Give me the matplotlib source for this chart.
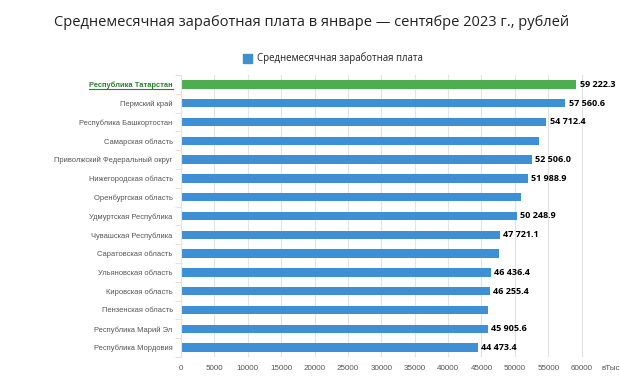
import numpy as np
import matplotlib.pyplot as plt

# data
regions = [
    "Республика Татарстан", "Пермский край", "Республика Башкортостан",
    "Самарская область", "Приволжский Федеральный округ", "Нижегородская область",
    "Оренбургская область", "Удмуртская Республика", "Чувашская Республика",
    "Саратовская область", "Ульяновская область", "Кировская область",
    "Пензенская область", "Республика Марий Эл", "Республика Мордовия",
]
salary = [59222.3, 57560.6, 54712.4, 53600.0, 52506.0, 51988.9, 50900.0, 50248.9,
          47721.1, 47600.0, 46436.4, 46255.4, 46050.0, 45905.6, 44473.4]
shown = [True, True, True, False, True, True, False, True,
         True, False, True, True, False, True, True]

plt.rcParams['font.family'] = ['Liberation Sans', 'DejaVu Sans']
title_font = ['Open Sans', 'DejaVu Sans']

fig = plt.figure(figsize=(6.2, 3.86), dpi=100)
ax = fig.add_axes([181 / 620, 1 - 357 / 386, 434 / 620, 282 / 386])

blue = "#3f8fd5"
green = "#4cae4f"
y = np.arange(len(regions))
colors = [green] + [blue] * (len(regions) - 1)
ax.barh(y, salary, height=0.45, color=colors, zorder=2)

for yi, v, s in zip(y, salary, shown):
    if s:
        txt = f"{v:,.1f}".replace(",", " ")
        ax.text(v + 500, yi, txt, va="center", ha="left", fontsize=6.5,
                fontweight="bold", color="black", zorder=3, family=['Open Sans'])

ax.set_ylim(len(regions) - 0.5, -0.5)
ax.set_xlim(0, 65000)
xt = np.arange(0, 65000, 5000)
ax.set_xticks(xt)
ax.set_xticklabels([str(t) for t in xt], fontsize=5.8, color="#555555")
ax.set_yticks(y)
ax.set_yticklabels(regions, fontsize=5.4, color="#555555")
ax.get_yticklabels()[0].set_color("#2e7d32")
ax.get_yticklabels()[0].set_fontweight("bold")
ax.tick_params(axis="y", length=0, pad=6)
ax.tick_params(axis="x", length=0, pad=6)
ax.set_yticks(np.arange(-0.5, len(regions)), minor=True)
ax.tick_params(axis="y", which="minor", length=4, color="#e8d8c8")

ax.grid(axis="x", color="#e3e3e3", linewidth=0.8, zorder=0)
for side in ["top", "right", "bottom"]:
    ax.spines[side].set_visible(False)
ax.spines["left"].set_color("#e3e3e3")

# underline for the highlighted region
lab = ax.get_yticklabels()[0]
fig.canvas.draw()
bb = lab.get_window_extent()
fig.add_artist(plt.Line2D([bb.x0 / 620, bb.x1 / 620], [(bb.y0 + 0.5) / 386] * 2,
                          color="#2e7d32", linewidth=0.8))

fig.text(312 / 620, 1 - 22 / 386, "Среднемесячная заработная плата в январе — сентябре 2023 г., рублей",
         ha="center", va="center", fontsize=10.5, color="#222222", family=title_font)
fig.patches.append(plt.Rectangle((243 / 620, 1 - 63 / 386), 9 / 620, 9 / 386,
                                 color=blue, transform=fig.transFigure, figure=fig))
fig.text(257 / 620, 1 - 58.5 / 386, "Среднемесячная заработная плата",
         ha="left", va="center", fontsize=6.9, color="#222222", family=title_font)
fig.text(601 / 620, 1 - 369 / 386, "вТыс", ha="left", va="center", fontsize=5.8,
         color="#555555")

fig.savefig("out.png", dpi=100)
